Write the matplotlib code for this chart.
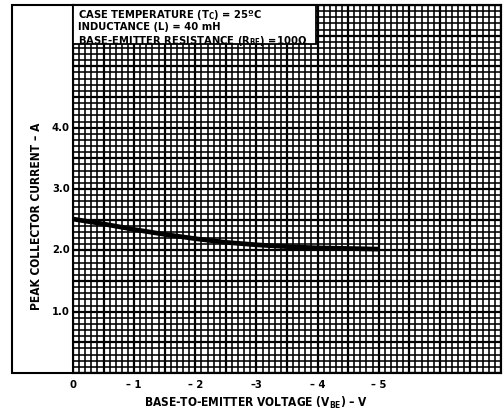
import matplotlib
matplotlib.use("Agg")
import matplotlib.pyplot as plt
from matplotlib.patches import Rectangle
import numpy as np

# data
vbe = [0, -0.5, -1.0, -1.5, -2.0, -2.5, -3.0, -3.5, -4.0, -4.5, -5.0]
ic_peak = [2.51, 2.43, 2.34, 2.26, 2.19, 2.13, 2.09, 2.06, 2.04, 2.03, 2.02]
x_ticks = [0, -1, -2, -3, -4, -5]
x_tick_labels = ["0", "\u2013 1", "\u2013 2", "\u20133", "\u2013 4", "\u2013 5"]
y_ticks = [1.0, 2.0, 3.0, 4.0]
y_tick_labels = ["1.0", "2.0", "3.0", "4.0"]
cond_lines = [r"CASE TEMPERATURE (T$_\mathbf{C}$) = 25ºC",
              "INDUCTANCE (L) = 40 mH",
              r"BASE-EMITTER RESISTANCE (R$_\mathbf{BE}$) =100Ω"]

plt.rcParams["font.family"] = ["DejaVu Sans"]
plt.rcParams["font.stretch"] = "condensed"
plt.rcParams["mathtext.fontset"] = "custom"
plt.rcParams["mathtext.bf"] = "DejaVu Sans:bold:stretch=condensed"

TXT = dict(fontweight="bold", fontstretch="condensed", fontsize=8)
LBL = dict(fontweight="bold", fontstretch="condensed", fontsize=8.6)

W, H = 503, 417
fig = plt.figure(figsize=(W / 100, H / 100), dpi=100)
ax = fig.add_axes([73 / W, (H - 373) / H, 428 / W, 368 / H])

ax.set_xlim(0, -7)
ax.set_ylim(0, 6)

# grid
ax.set_xticks(np.arange(0, -7.01, -0.5))
ax.set_yticks(np.arange(0, 6.01, 0.5))
ax.set_xticks(np.arange(0, -7.01, -0.1), minor=True)
ax.set_yticks(np.arange(0, 6.01, 0.1), minor=True)
ax.grid(True, which="major", color="black", linewidth=1.6)
ax.grid(True, which="minor", color="black", linewidth=1.15)
ax.set_axisbelow(True)
ax.tick_params(which="both", length=0, labelbottom=False, labelleft=False)
for s in ax.spines.values():
    s.set_linewidth(1.5)

# tick labels
for xv, lab in zip(x_ticks, x_tick_labels):
    ax.text(xv, -0.2, lab, ha="center", va="center", clip_on=False, **TXT)
for yv, lab in zip(y_ticks, y_tick_labels):
    ax.text(0.05, yv, lab, ha="right", va="center", clip_on=False, **TXT)

# curve
ax.plot(vbe, ic_peak, color="black", linewidth=3.4, zorder=5,
        solid_capstyle="butt")

# conditions box
ax.add_patch(Rectangle((0, 1 - 39 / 368), 243 / 428, 39 / 368,
                       transform=ax.transAxes, facecolor="white",
                       edgecolor="black", linewidth=1.3, zorder=3,
                       clip_on=False))
for i, t in enumerate(cond_lines):
    ax.text(5 / 428, 1 - (9.5 + 13 * i) / 368, t, transform=ax.transAxes,
            ha="left", va="center", zorder=4, **TXT)

# outer frame
fig.patches.append(Rectangle((12 / W, (H - 373) / H), (501 - 12) / W,
                             368 / H, transform=fig.transFigure,
                             facecolor="none", edgecolor="black",
                             linewidth=1.5))

fig.text(37 / W, 1 - 216 / H, "PEAK COLLECTOR CURRENT \u2013 A",
         rotation=90, ha="center", va="center", **LBL)
fig.text(256 / W, 1 - 403 / H,
         "BASE-TO-EMITTER VOLTAGE (V$_\\mathbf{BE}$) \u2013 V",
         ha="center", va="center", **LBL)

fig.savefig("out.png", dpi=100)
